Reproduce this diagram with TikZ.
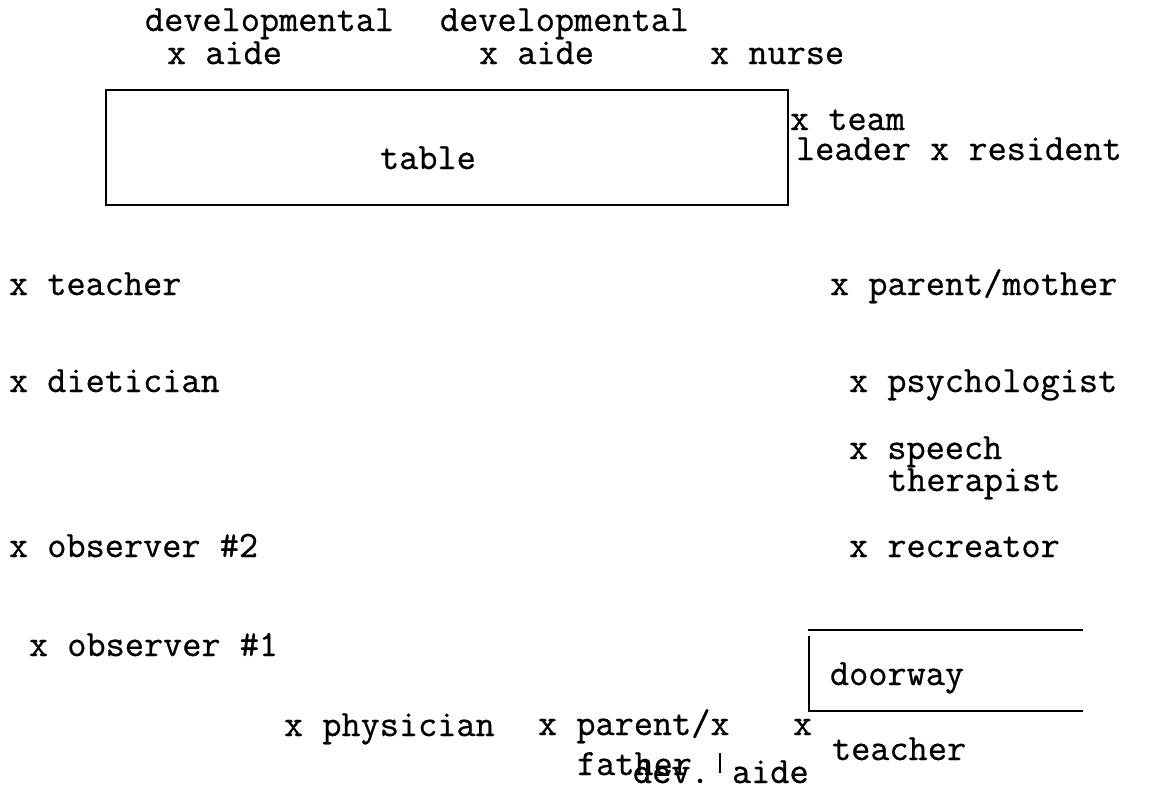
\documentclass[tikz,border=0pt]{standalone}
\usepackage{fontspec}
\newfontfamily\typewriter{Latin Modern Mono}[FakeBold=0.7]
\begin{document}
\begin{tikzpicture}[x=1pt,y=-1pt,
  lbl/.style={anchor=base west,inner sep=0pt,outer sep=0pt,
    font=\typewriter\fontsize{37.2}{40}\selectfont},
  wall/.style={line width=2pt,black}]
\useasboundingbox (0,0) rectangle (1155,790);

% top row: staff seated along the table
\node[lbl] (dev1)  at (145,31) {developmental};
\node[lbl] (aide1) at (167,64) {x aide};
\node[lbl] (dev2)  at (440,31) {developmental};
\node[lbl] (aide2) at (479,64) {x aide};
\node[lbl] (nurse) at (710,64) {x nurse};

% the table
\draw[wall] (106,90) rectangle (788,205);
\node[lbl] (table) at (380,169) {table};
\node[lbl] (team)   at (790,130) {x team};
\node[lbl] (leader) at (796,160) {leader x resident};

% left side of the room
\node[lbl] (teacher)   at (9,295) {x teacher};
\node[lbl] (dietician) at (9,392) {x dietician};
\node[lbl] (obs2)      at (9,557) {x observer \#2};
\node[lbl] (obs1)      at (29,656) {x observer \#1};

% right side of the room
\node[lbl] (mother)    at (830,295) {x parent/mother};
\node[lbl] (psych)     at (849,392) {x psychologist};
\node[lbl] (speech)    at (849,459) {x speech};
\node[lbl] (therapist) at (888,491) {therapist};
\node[lbl] (recreator) at (849,557) {x recreator};

% doorway
\draw[wall] (808,630) -- (1083,630);
\draw[wall] (809,636) -- (809,711) -- (1083,711);
\node[lbl] (doorway) at (830,685) {doorway};

% bottom row
\node[lbl] (physician) at (284,736) {x physician};
\node[lbl] (father1)   at (538,735) {x parent/x};
\node[lbl] (father2)   at (577,775) {father};
\node[lbl] (devx)      at (793,735) {x};
\node[lbl] (teacher2)  at (832,760) {teacher};
\node[lbl] (devaide1)  at (633,783) {dev.};
\node[lbl] (devaide2)  at (732,783) {aide};
\draw[line width=1.6pt] (720,753) -- (720,773);
\end{tikzpicture}
\end{document}
